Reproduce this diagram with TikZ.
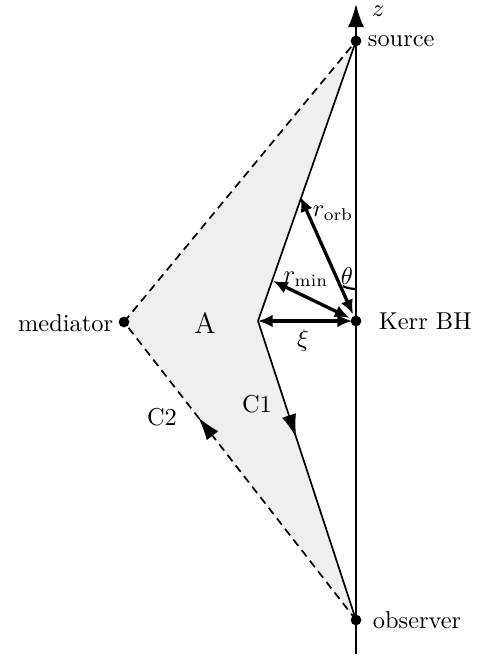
\documentclass[tikz,border=0pt]{standalone}
\usetikzlibrary{arrows.meta,decorations.markings}
\definecolor{areagray}{HTML}{EEF0F0}
\tikzset{
  dot/.style={circle,fill=black,inner sep=0pt,minimum size=4.4pt},
  thinline/.style={line width=0.7pt},
  dashline/.style={line width=0.7pt,dash pattern=on 3.3pt off 2.2pt},
  thickarrow/.style={line width=1.35pt,{Latex[length=6pt,width=5.2pt]}-{Latex[length=6pt,width=5.2pt]}},
  flowarrow/.style={postaction={decorate},decoration={markings,mark=at position #1 with {\arrow{Latex[length=9.5pt,width=6pt]}}}},
  lbl/.style={inner sep=1pt,font=\normalsize}
}
\begin{document}
\begin{tikzpicture}[x=0.41pt,y=-0.41pt]
\useasboundingbox (0,0) rectangle (479,658);
% points
\coordinate (ztop) at (356,4);
\coordinate (zbot) at (356,654);
\coordinate (inner) at (258,321);
\coordinate (orbend) at (300.5,197);
\coordinate (minend) at (273,281);
% fill
\fill[areagray] (356,41) -- (inner) -- (356,620) -- (124,322) -- cycle;
% axis
\draw[thinline,-{Latex[length=9.5pt,width=6.6pt]}] (zbot) -- (ztop);
% dots
\node[dot] (src) at (356,41) {};
\node[dot] (bh) at (356,321) {};
\node[dot] (obs) at (356,620) {};
\node[dot] (med) at (124,322) {};
% C1
\draw[thinline] (src.center) -- (inner);
\draw[thinline,flowarrow=0.39] (inner) -- (obs.center);
% C2
\draw[dashline] (med.center) -- (src.center);
\draw[dashline,flowarrow=0.68] (obs.center) -- (med.center);
% arrows
\draw[thickarrow,shorten <=3pt] (bh.center) -- (orbend);
\draw[thickarrow,shorten <=3pt] (bh.center) -- (minend);
\draw[thickarrow,shorten <=1.6pt] (bh.center) -- (inner);
% theta arc
\draw[line width=0.9pt] (356,289) arc[start angle=90,end angle=114.3,radius=32];
% labels
\node[lbl] (zl) at (378,11) {$z$};
\node[lbl,anchor=west] (srcl) at (365,41) {source};
\node[lbl,anchor=west] (bhl) at (376,321) {Kerr BH};
\node[lbl,anchor=west] (obsl) at (370,620) {observer};
\node[lbl,anchor=east] (medl) at (116,323) {mediator};
\node[lbl,font=\large] (al) at (205,323) {A};
\node[lbl] (c1l) at (257,404) {C1};
\node[lbl] (c2l) at (162,417) {C2};
\node[lbl] (orbl) at (333,213) {$r_{\rm orb}$};
\node[lbl] (minl) at (306,279) {$r_{\rm min}$};
\node[lbl] (thl) at (347,276) {$\theta$};
\node[lbl] (xil) at (303,340) {$\xi$};
\end{tikzpicture}
\end{document}
